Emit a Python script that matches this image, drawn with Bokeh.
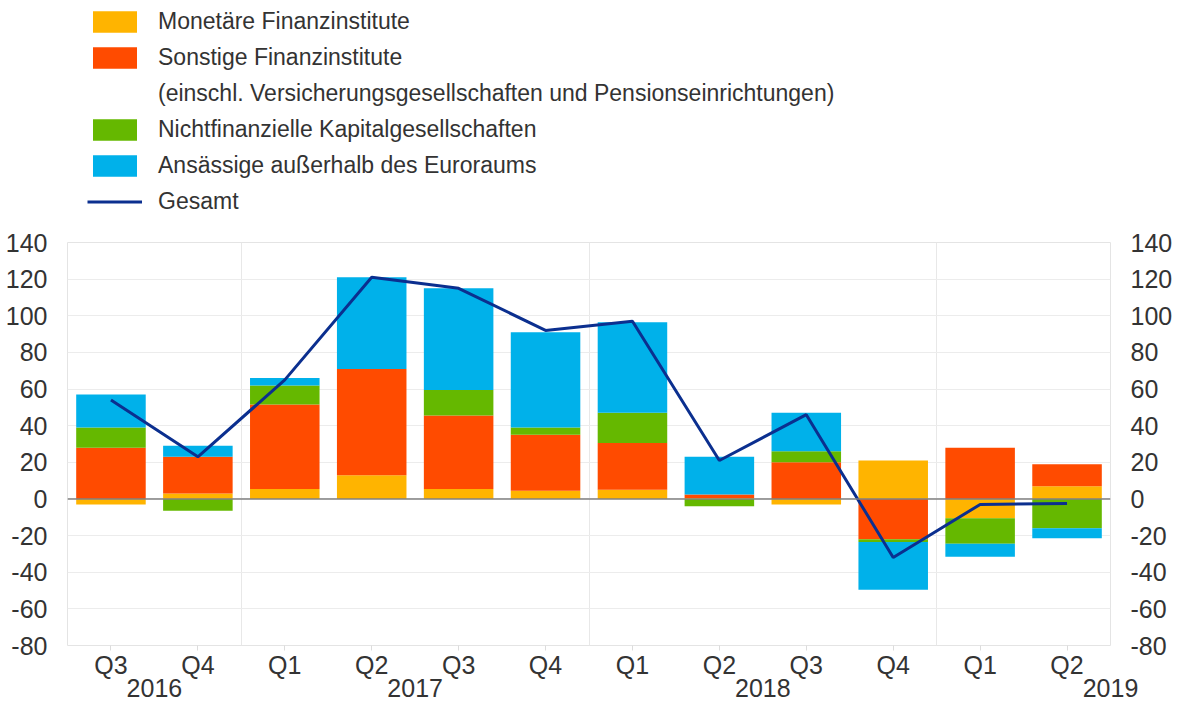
from bokeh.plotting import figure
from bokeh.layouts import column
from bokeh.models import (Range1d, LinearAxis, FixedTicker, Legend, LegendItem,
                          Span, ColumnDataSource)
from bokeh.embed import file_html
from bokeh.resources import INLINE

# ---- data ----
quarters = ["Q3", "Q4", "Q1", "Q2", "Q3", "Q4", "Q1", "Q2", "Q3", "Q4", "Q1", "Q2"]
quarter_years = ["2016", "2016", "2017", "2017", "2017", "2017",
                 "2018", "2018", "2018", "2018", "2019", "2019"]
mfi = [-3, 3, 5.5, 13, 5.5, 4.5, 5, 0.5, -3, 21, -10.5, 7]
ofi = [28, 20, 46, 58, 40, 30.5, 25.5, 2, 20, -22, 28, 12]
nfc = [11, -6.5, 10.5, 0, 14, 4, 16.5, -4, 6, -1.5, -14, -16]
non_ea = [18, 6, 4, 50, 55.5, 52, 49.5, 20.5, 21, -26, -7, -5.5]
total = [54, 23, 65, 121, 115, 92, 97, 21, 46, -32, -3, -2.5]

series_names = ["Monetäre Finanzinstitute",
                "Sonstige Finanzinstitute",
                "Nichtfinanzielle Kapitalgesellschaften",
                "Ansässige außerhalb des Euroraums"]
series_note = "(einschl. Versicherungsgesellschaften und Pensionseinrichtungen)"
line_name = "Gesamt"
y_ticks = list(range(-80, 141, 20))

colors = ["#FFB400", "#FF4B00", "#65B800", "#00B1EA"]
line_color = "#0B2F8F"
text_color = "#333333"
FONT = "Liberation Sans"

n = len(quarters)
xs = [i + 0.5 for i in range(n)]

# year label positions derived from the quarter/year lists
year_list = []
for y in quarter_years:
    if y not in year_list:
        year_list.append(y)
year_ticks = []
for k, yr in enumerate(year_list):
    idx = [i for i, qy in enumerate(quarter_years) if qy == yr]
    if k == len(year_list) - 1:
        year_ticks.append(float(max(idx) + 1))
    else:
        year_ticks.append(sum(xs[i] for i in idx) / len(idx))

W = 1175
BL, BR = 67, 65
LH = 226
p = figure(width=W, height=699 - LH, x_range=Range1d(0, n), y_range=Range1d(-80, 140),
           output_backend="svg", toolbar_location=None,
           min_border_left=BL, min_border_right=BR, min_border_top=242 - LH,
           min_border_bottom=54,
           outline_line_color="#e4e4e4", background_fill_color="white",
           border_fill_color="white")

# quarter axis
p.xaxis.ticker = FixedTicker(ticks=xs)
p.xaxis.major_label_overrides = {x: q for x, q in zip(xs, quarters)}
p.xaxis.axis_line_color = None
p.xaxis.major_tick_in = 0
p.xaxis.major_tick_out = 5
p.xaxis.major_tick_line_color = "#dcdcdc"
p.xaxis.minor_tick_line_color = None
p.xaxis.major_label_text_font = FONT
p.xaxis.major_label_text_font_size = "25px"
p.xaxis.major_label_text_color = text_color
p.xaxis.major_label_standoff = 0

# year axis
ya = LinearAxis(ticker=FixedTicker(ticks=year_ticks),
                major_label_overrides={t: yr for t, yr in zip(year_ticks, year_list)})
ya.axis_line_color = None
ya.major_tick_line_color = None
ya.minor_tick_line_color = None
ya.major_label_text_font = FONT
ya.major_label_text_font_size = "25px"
ya.major_label_text_color = text_color
ya.major_label_standoff = -9
p.add_layout(ya, "below")

p.yaxis.ticker = FixedTicker(ticks=y_ticks)
ra = LinearAxis(ticker=FixedTicker(ticks=y_ticks))
p.add_layout(ra, "right")
for ax in p.yaxis:
    ax.axis_line_color = None
    ax.major_tick_line_color = None
    ax.minor_tick_line_color = None
    ax.major_label_overrides = {t: str(t) for t in y_ticks}
    ax.major_label_text_font = FONT
    ax.major_label_text_font_size = "25px"
    ax.major_label_text_color = text_color
    ax.major_label_standoff = 14

# grids
p.xgrid.ticker = FixedTicker(ticks=[2, 6, 10])
p.xgrid.grid_line_color = "#e8e8e8"
p.ygrid.ticker = FixedTicker(ticks=y_ticks)
p.ygrid.grid_line_color = "#ececec"

# stacked bars (positive and negative stacked separately)
pos_base = [0.0] * n
neg_base = [0.0] * n
for vals, col in zip([mfi, ofi, nfc, non_ea], colors):
    bottoms, tops = [], []
    for i, v in enumerate(vals):
        if v >= 0:
            b = pos_base[i]; t = b + v; pos_base[i] = t
        else:
            b = neg_base[i]; t = b + v; neg_base[i] = t
        bottoms.append(b); tops.append(t)
    src = ColumnDataSource(dict(x=xs, bottom=bottoms, top=tops))
    p.vbar(x="x", bottom="bottom", top="top", width=0.8, source=src,
           fill_color=col, line_color=None)

p.add_layout(Span(location=0, dimension="width", line_color="#808080", line_width=1.5))
p.line(xs, total, line_color=line_color, line_width=3)

# ---- legend panel (separate figure above the chart) ----
lf = figure(width=W, height=LH, x_range=Range1d(0, 1), y_range=Range1d(0, 1),
            output_backend="svg", toolbar_location=None,
            x_axis_location=None, y_axis_location=None,
            min_border_left=BL, min_border_right=BR, min_border_top=0, min_border_bottom=0,
            outline_line_color=None, background_fill_color="white",
            border_fill_color="white")
lf.grid.visible = False
# zero-size legend proxies (only their styles are used by the legend)
lr = [lf.vbar(x=[0.5], bottom=[0], top=[0], width=0, fill_color=c, line_color=None)
      for c in colors]
l_dummy = lf.vbar(x=[0.5], bottom=[0], top=[0], width=0, fill_alpha=0, line_alpha=0)
l_line = lf.line(x=[0.5, 0.5], y=[0, 0], line_color=line_color, line_width=3)

items = [
    LegendItem(label=series_names[0], renderers=[lr[0]]),
    LegendItem(label=series_names[1], renderers=[lr[1]]),
    LegendItem(label=series_note, renderers=[l_dummy]),
    LegendItem(label=series_names[2], renderers=[lr[2]]),
    LegendItem(label=series_names[3], renderers=[lr[3]]),
    LegendItem(label=line_name, renderers=[l_line]),
]
GH, SP = 27, 9
leg_h = 6 * GH + 5 * SP
legend = Legend(items=items, location=(20, LH - 8 - leg_h), orientation="vertical",
                glyph_width=55, glyph_height=GH, spacing=SP, padding=0, margin=0,
                label_standoff=16, label_text_font=FONT, label_text_font_size="23px",
                label_text_color=text_color, border_line_color=None,
                background_fill_alpha=0, label_height=GH)
lf.add_layout(legend, "center")

layout = column(lf, p, spacing=0)
open("out.html", "w").write(file_html(layout, INLINE))
